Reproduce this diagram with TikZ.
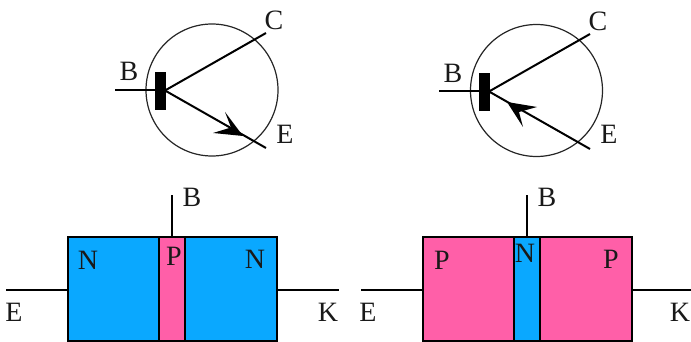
\documentclass[tikz,border=0pt]{standalone}
\usepackage{fontspec}
\setmainfont{Liberation Serif}
\definecolor{nblue}{HTML}{0AA8FF}
\definecolor{ppink}{HTML}{FF5FA8}
\tikzset{
  lbl/.style={inner sep=0pt,font=\fontsize{28}{28}\selectfont,text=black!90},
  wire/.style={draw=black,line width=2pt},
  thin circle/.style={draw=black!85,line width=1.2pt,circle,inner sep=0pt,minimum size=132pt},
  bar/.style={fill=black,draw=none,inner sep=0pt,minimum width=11pt,minimum height=38pt},
  region/.style={draw=black,line width=2.2pt,inner sep=0pt,minimum height=103.5pt},
  nreg/.style={region,fill=nblue},
  preg/.style={region,fill=ppink},
}
\begin{document}
\begin{tikzpicture}[x=1pt,y=-1pt]
\useasboundingbox (0,0) rectangle (691,342);
% left symbol
\node[thin circle] (c1) at (212,90) {};
\node[bar] (b1) at (160.5,91) {};
\coordinate (b1w) at (115,90.5);
\coordinate (c1e) at (266,33);
\coordinate (e1e) at (266,148);
\coordinate (j1) at (165,90.5);
\draw[wire] (b1w) -- (b1w -| b1.west);
\draw[wire] (j1) -- (c1e);
\draw[wire] (j1) -- (e1e);
\fill (243,136) -- (225,112) -- (231,127.5) -- (213,133) -- cycle;
\node[lbl] at (129,71) {B};
\node[lbl] at (274,20) {C};
\node[lbl] at (285,134) {E};
% right symbol
\node[thin circle] (c2) at (536.5,90.5) {};
\node[bar] (b2) at (484.5,92) {};
\coordinate (b2w) at (439,91.5);
\coordinate (c2e) at (590,34);
\coordinate (e2e) at (590,149);
\coordinate (j2) at (489,91.5);
\draw[wire] (b2w) -- (b2w -| b2.west);
\draw[wire] (j2) -- (c2e);
\draw[wire] (j2) -- (e2e);
\fill (507,102) -- (537,107) -- (519,112) -- (523,127) -- cycle;
\node[lbl] at (453,73) {B};
\node[lbl] at (598,21) {C};
\node[lbl] at (609,134) {E};
% left block
\node[nreg,minimum width=209pt] (r1) at (172.5,289) {};
\node[preg,minimum width=26pt] (s1) at (172,289) {};
\coordinate (eL) at (6,290);
\coordinate (kL) at (339,290);
\coordinate (bL) at (172,195);
\draw[wire] (eL) -- (eL -| r1.west);
\draw[wire] (r1.east |- kL) -- (kL);
\draw[wire] (bL) -- (s1.north);
\node[lbl] at (88,260) {N};
\node[lbl] at (174,256) {P};
\node[lbl] at (255,259) {N};
\node[lbl] at (192,197) {B};
\node[lbl] at (14,312) {E};
\node[lbl] at (328,312) {K};
% right block
\node[preg,minimum width=209pt] (r2) at (527.5,289) {};
\node[nreg,minimum width=26pt] (s2) at (527,289) {};
\coordinate (eR) at (361,290);
\coordinate (kR) at (691,290);
\coordinate (bR) at (527,195);
\draw[wire] (eR) -- (eR -| r2.west);
\draw[wire] (r2.east |- kR) -- (kR);
\draw[wire] (bR) -- (s2.north);
\node[lbl] at (442,260) {P};
\node[lbl] at (525,253) {N};
\node[lbl] at (611,259) {P};
\node[lbl] at (547,197) {B};
\node[lbl] at (368,312) {E};
\node[lbl] at (680,312) {K};
\end{tikzpicture}
\end{document}
